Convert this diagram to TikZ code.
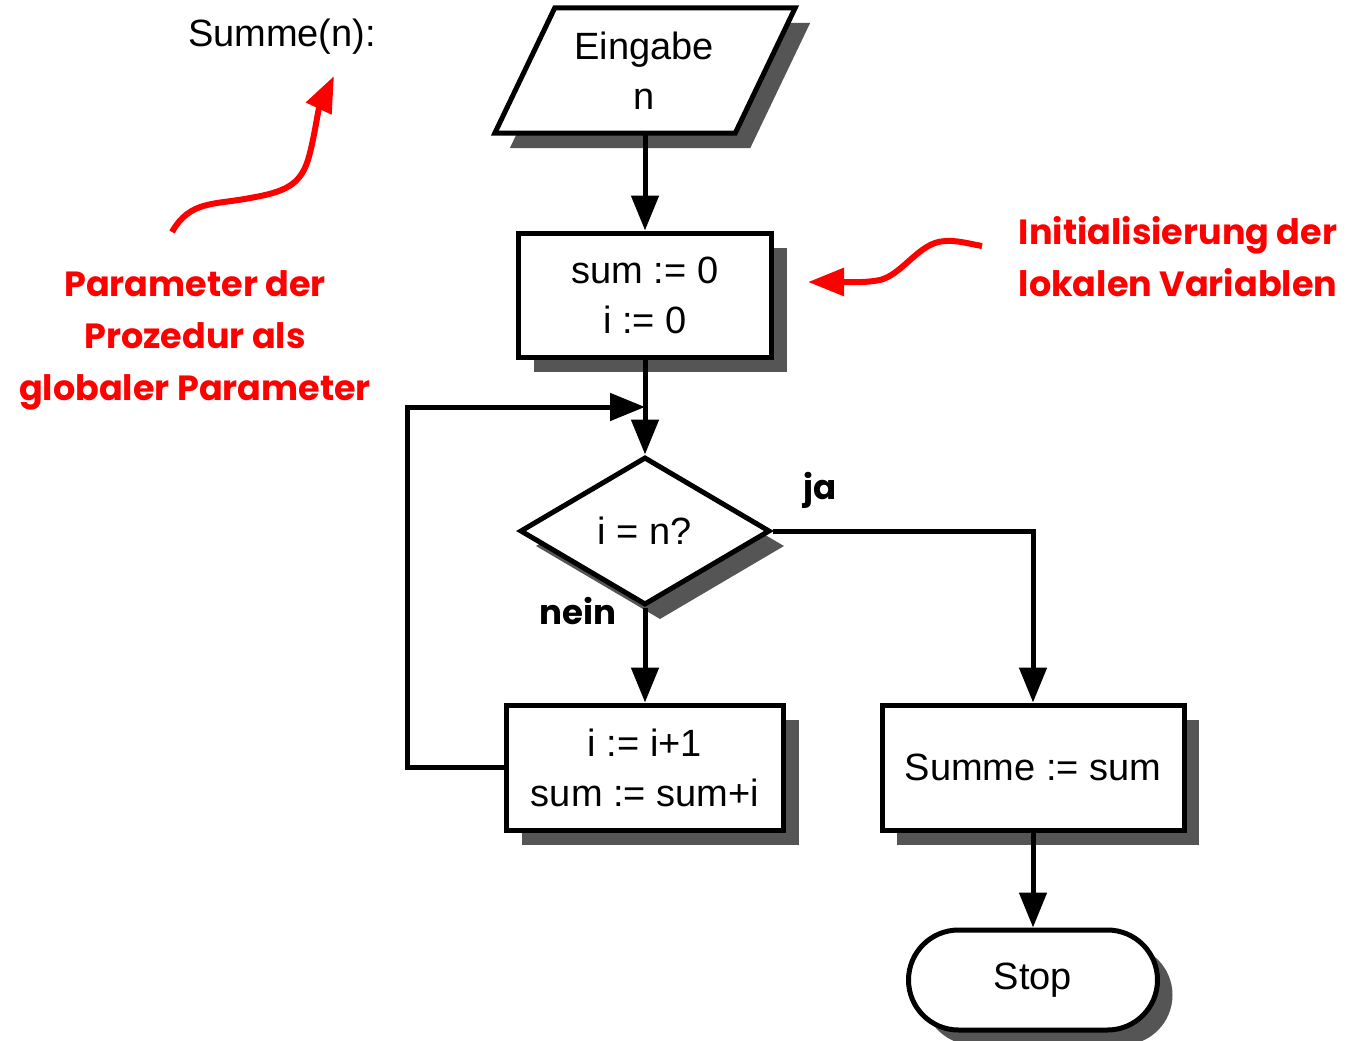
\documentclass[tikz,border=0pt]{standalone}
\usepackage{fontspec}
\setmainfont{Liberation Sans}
\newfontfamily\handfont{Poppins}
\usetikzlibrary{shapes.geometric,shapes.misc,shadows,arrows.meta,calc}
\definecolor{shadowgray}{RGB}{85,85,85}
\begin{document}
\begin{tikzpicture}[x=1pt,y=-1pt,
  shadowed/.style={drop shadow={shadow xshift=15pt, shadow yshift=-15pt, fill=shadowgray, opacity=1}},
  box/.style={draw, line width=5pt, fill=white, inner sep=0pt, align=center,
    font=\fontsize{38}{50}\selectfont, shadowed},
  conn/.style={line width=5pt, line join=miter, -{Triangle[length=35pt,width=27pt]}},
  note/.style={text=red, font=\handfont\bfseries\fontsize{35}{52}\selectfont, align=center},
  redarrow/.style={draw=red, line width=6pt, -{Triangle[length=36pt,width=27pt]}},
  lab/.style={font=\handfont\bfseries\fontsize{34}{40}\selectfont}
]
\useasboundingbox (0,0) rectangle (1347,1041);

% input parallelogram
\node[inner sep=0pt, minimum width=240pt, minimum height=125pt, align=center,
  font=\fontsize{38}{50}\selectfont] (in) at (645,70.5) {};
\path[box] ([xshift=30pt]in.north west) -- ([xshift=30pt]in.north east)
  -- ([xshift=-30pt]in.south east) -- ([xshift=-30pt]in.south west) -- cycle;
\node[align=center, font=\fontsize{38}{50}\selectfont] (intext) at (644,71) {Eingabe\\n};

\node[box, minimum width=253pt, minimum height=124pt] (init) at (645,295) {sum := 0\\i := 0};
\node[box, shape=diamond, minimum width=250pt, minimum height=148pt] (dec) at (645,531) {i = n?};
\node[box, minimum width=277pt, minimum height=125pt] (inc) at (645,767.5) {i := i+1\\sum := sum+i};
\node[box, minimum width=302pt, minimum height=125pt] (out) at (1033,767.5) {Summe := sum};
\node[box, shape=rounded rectangle, minimum width=249pt, minimum height=100pt] (stop) at (1033,980) {Stop};

\coordinate (lp) at (407,407);
\coordinate (join) at (645,407);

\draw[conn] (in.south) -- (init.north);
\draw[conn] (init.south) -- (dec.north);
\draw[conn] (inc.west) -| (lp) -- (join);
\draw[conn] (dec.east) -| (out.north);
\draw[conn] (dec.south) -- (inc.north);
\draw[conn] (out.south) -- (stop.north);

\node[lab] (ja) at (820,490) {ja};
\node[lab] (nein) at (578,611) {nein};

\node[font=\fontsize{38}{46}\selectfont] (title) at (282,37) {Summe(n):};

\node[note] (n1) at (195,340) {Parameter der\\Prozedur als\\globaler Parameter};
\node[note] (n2) at (1178,257) {Initialisierung der\\lokalen Variablen};

\coordinate (a1s) at (172,232);
\coordinate (a1e) at (334,76);
\coordinate (a2s) at (982,246);
\coordinate (a2e) at (808,282);
\draw[redarrow] (a1s) .. controls (190,200) and (215,205) .. (250,198)
  .. controls (285,192) and (300,185) .. (308,160)
  .. controls (314,140) and (318,110) .. (a1e);
\draw[redarrow] (a2s) .. controls (965,243) and (950,238) .. (935,243)
  .. controls (915,250) and (900,275) .. (880,280)
  .. controls (865,283) and (850,282) .. (a2e);
\end{tikzpicture}
\end{document}
